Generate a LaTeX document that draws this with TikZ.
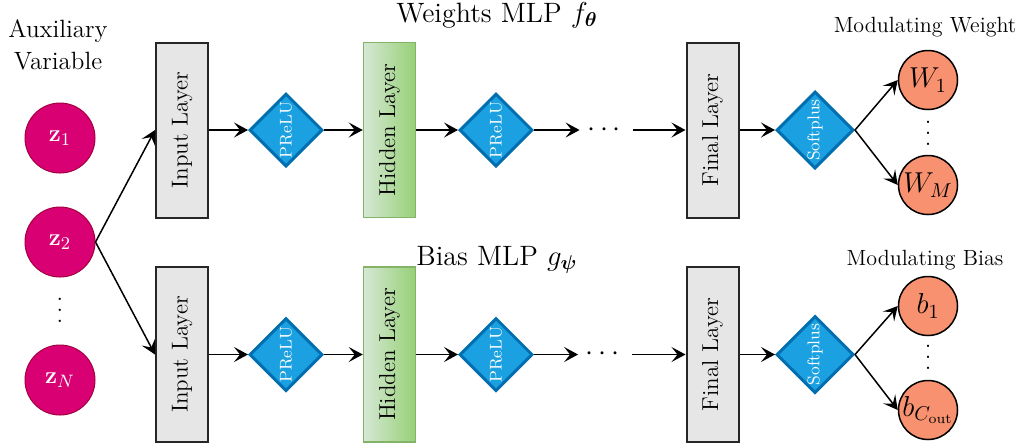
\documentclass[tikz,border=0pt]{standalone}
\usepackage{amsmath,amssymb,graphicx}
\usetikzlibrary{shapes.geometric,arrows.meta}

\definecolor{zfill}{HTML}{D80073}
\definecolor{zline}{HTML}{A50040}
\definecolor{actfill}{HTML}{1BA1E2}
\definecolor{actline}{HTML}{006EAF}
\definecolor{layfill}{HTML}{E6E6E6}
\definecolor{layline}{HTML}{262626}
\definecolor{hidl}{HTML}{D5E8D4}
\definecolor{hidr}{HTML}{97D077}
\definecolor{hidline}{HTML}{82B366}
\definecolor{outfill}{HTML}{F8916F}

% compact vertical ellipsis without the extra space above the dots
\newcommand{\tightvdots}{\vbox{\baselineskip=5.5pt\lineskiplimit=0pt
  \hbox{\large .}\hbox{\large .}\hbox{\large .}}}

\begin{document}
\begin{tikzpicture}[x=0.5pt,y=-0.5pt,
  zvar/.style={circle,fill=zfill,draw=zline,line width=0.5pt,minimum size=35pt,
    inner sep=0pt,text=white,font=\fontsize{13}{15}\selectfont},
  layer/.style={rectangle,fill=layfill,draw=layline,line width=1pt,minimum width=26pt,
    minimum height=87.5pt,inner sep=0pt,font=\fontsize{11.5}{13}\selectfont},
  hidden/.style={layer,draw=hidline,line width=0.75pt,left color=hidl,right color=hidr},
  act/.style={diamond,aspect=1,fill=actfill,draw=actline,line width=1.5pt,
    minimum size=36.5pt,inner sep=0pt,text=white,font=\fontsize{8.5}{10}\selectfont},
  outv/.style={circle,fill=outfill,draw=black,line width=0.75pt,minimum size=29.5pt,
    inner sep=0pt,font=\Large},
  flow/.style={-{Stealth[length=7pt,width=7.5pt,inset=3pt]},line width=0.75pt},
  hdots/.style={minimum width=26.5pt,inner sep=0pt,font=\Large},
  vdotsnode/.style={inner sep=0pt},
  title/.style={anchor=base,font=\fontsize{14}{17}\selectfont},
  caption/.style={anchor=base,font=\fontsize{11}{13}\selectfont},
]
\useasboundingbox (0,0) rectangle (1026,447);

% auxiliary variables
\node[align=center,font=\fontsize{12.5}{16}\selectfont] (aux) at (58,45) {Auxiliary\\Variable};
\node[zvar] (z1) at (60,138) {$\mathbf{z}_1$};
\node[zvar] (z2) at (60,242) {$\mathbf{z}_2$};
\node[vdotsnode] (zdots) at (60,310) {\tightvdots};
\node[zvar] (zN) at (60,380) {$\mathbf{z}_N$};

% weights MLP
\node[title] (wtitle) at (497,22) {Weights MLP $f_{\boldsymbol{\theta}}$};
\node[layer] (in1) at (182,130) {\rotatebox{90}{Input Layer}};
\node[act] (pr1) at (286,130) {\rotatebox{90}{PReLU}};
\node[hidden] (hid1) at (389.5,130) {\rotatebox{90}{Hidden Layer}};
\node[act] (pr2) at (496,130) {\rotatebox{90}{PReLU}};
\node[hdots] (d1) at (606.5,130) {$\cdots$};
\node[layer] (fin1) at (712.5,130) {\rotatebox{90}{Final Layer}};
\node[act] (sp1) at (815,130) {\rotatebox{90}{Softplus}};
\node[caption] (mw) at (925,32) {Modulating Weight};
\node[outv] (w1) at (928,80) {$W_1$};
\node[vdotsnode] (wdots) at (928,133) {\tightvdots};
\node[outv] (wM) at (928,185) {$W_M$};

% bias MLP
\node[title] (btitle) at (497,265) {Bias MLP $g_{\boldsymbol{\psi}}$};
\node[layer] (in2) at (182,354.5) {\rotatebox{90}{Input Layer}};
\node[act] (pr3) at (286,354.5) {\rotatebox{90}{PReLU}};
\node[hidden] (hid2) at (389.5,354.5) {\rotatebox{90}{Hidden Layer}};
\node[act] (pr4) at (496,354.5) {\rotatebox{90}{PReLU}};
\node[hdots] (d2) at (605,354.5) {$\cdots$};
\node[layer] (fin2) at (712.5,354.5) {\rotatebox{90}{Final Layer}};
\node[act] (sp2) at (815,354.5) {\rotatebox{90}{Softplus}};
\node[caption] (mb) at (925,265) {Modulating Bias};
\node[outv] (b1) at (928,306) {$b_1$};
\node[vdotsnode] (bdots) at (928,357) {\tightvdots};
\node[outv] (bC) at (928,410) {$b_{C_{\mathrm{out}}}$};

% connections
\draw[flow] (z2.east) -- (in1.west);
\draw[flow] (z2.east) -- (in2.west);

\draw[flow] (in1.east) -- (pr1.west);
\draw[flow] (pr1.east) -- (hid1.west);
\draw[flow] (hid1.east) -- (pr2.west);
\draw[flow] (pr2.east) -- (d1.west);
\draw[flow] (d1.east) -- (fin1.west);
\draw[flow] (fin1.east) -- (sp1.west);
\draw[flow] (sp1.east) -- (w1.west);
\draw[flow] (sp1.east) -- (wM.west);

\draw[flow] (in2.east) -- (pr3.west);
\draw[flow] (pr3.east) -- (hid2.west);
\draw[flow] (hid2.east) -- (pr4.west);
\draw[flow] (pr4.east) -- (d2.west);
\draw[flow] (d2.east) -- (fin2.west);
\draw[flow] (fin2.east) -- (sp2.west);
\draw[flow] (sp2.east) -- (b1.west);
\draw[flow] (sp2.east) -- (bC.west);
\end{tikzpicture}
\end{document}
